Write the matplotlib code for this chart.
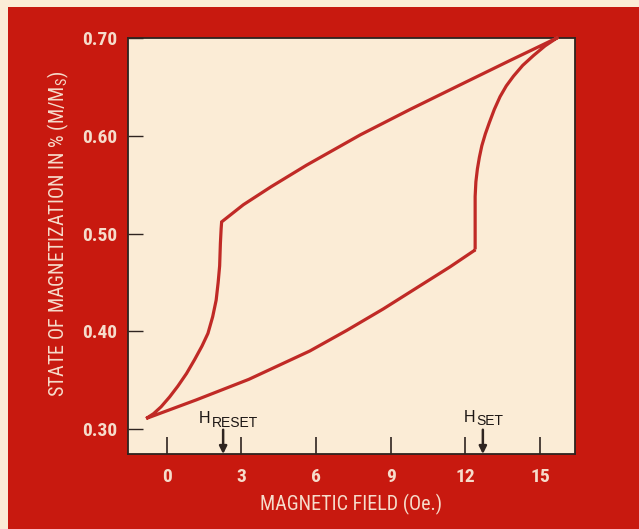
import matplotlib
matplotlib.use("Agg")
import matplotlib.pyplot as plt
import matplotlib.patches as patches
from matplotlib import font_manager

# hysteresis loop (field in Oe, M/Ms)
upper_x = [15.67, 13.79, 11.78, 9.78, 7.78, 5.62, 4.20, 3.08, 2.21]
upper_y = [0.700, 0.677, 0.652, 0.627, 0.601, 0.570, 0.548, 0.5295, 0.512]
reset_x = [2.19, 2.16, 2.13, 2.07, 1.99, 1.85, 1.66, 1.42, 1.12, 0.80, 0.45, 0.12, -0.22, -0.52, -0.82]
reset_y = [0.505, 0.490, 0.467, 0.450, 0.432, 0.415, 0.398, 0.385, 0.371, 0.357, 0.344, 0.333, 0.323, 0.316, 0.311]
lower_x = [-0.82, 1.19, 3.30, 5.75, 7.23, 8.70, 10.04, 11.38, 12.40]
lower_y = [0.311, 0.330, 0.351, 0.380, 0.401, 0.423, 0.4445, 0.466, 0.4835]
set_x = [12.39, 12.39, 12.39, 12.42, 12.48, 12.56, 12.66, 12.80, 12.96, 13.16, 13.39, 13.64, 13.93, 14.30, 14.73, 15.20, 15.67]
set_y = [0.4835, 0.504, 0.538, 0.553, 0.566, 0.578, 0.590, 0.602, 0.6135, 0.627, 0.640, 0.651, 0.661, 0.672, 0.682, 0.692, 0.700]

x_ticks = [0, 3, 6, 9, 12, 15]
y_ticks = [0.30, 0.40, 0.50, 0.60, 0.70]
y_tick_labels = ["0.30", "0.40", "0.50", "0.60", "0.70"]

h_reset = 2.27
h_set = 12.7

RED = "#c8190f"
CREAM = "#fbecd6"
LINE = "#c02a26"
DARK = "#2e2420"
LABEL = "#f6dccb"

# look for a narrow face, the original uses a condensed grotesque
names = {f.name: f for f in font_manager.fontManager.ttflist}
narrow = None
for cand in ['Liberation Sans Narrow', 'Roboto Condensed', 'Open Sans Condensed',
             'Noto Sans Condensed', 'DejaVu Sans Condensed', 'Arial Narrow']:
    if cand in names:
        narrow = cand
        break
stretch = 'normal'
if narrow is None:
    for f in font_manager.fontManager.ttflist:
        if f.name in ('DejaVu Sans', 'Noto Sans', 'Open Sans') and str(f.stretch) in ('condensed', 'semi-condensed', '75', '87.5'):
            narrow = f.name
            stretch = 'condensed'
            break
if narrow is None:
    narrow = 'DejaVu Sans'
    scale = 0.82
else:
    scale = 1.0

plt.rcParams['font.family'] = [narrow, 'DejaVu Sans']
plt.rcParams['font.stretch'] = stretch

fig = plt.figure(figsize=(6.39, 5.29), dpi=100)
fig.patch.set_facecolor(CREAM)
W, H = 639.0, 529.0
fig.patches.append(patches.Rectangle((8 / W, 0), 1, 1 - 7 / H, transform=fig.transFigure,
                                     facecolor=RED, edgecolor='none', zorder=-10))

ax = fig.add_axes([128 / W, 1 - 454 / H, (575 - 128) / W, (454 - 38) / H])
ax.set_zorder(1)
ax.set_facecolor(CREAM)

xs = upper_x + reset_x + lower_x + set_x
ys = upper_y + reset_y + lower_y + set_y
ax.plot(xs, ys, color=LINE, lw=2.3, solid_joinstyle='miter', zorder=3, clip_on=False)

ax.set_xlim(-1.55, 16.4)
ax.set_ylim(0.2747, 0.70)

for s in ax.spines.values():
    s.set_color(DARK)
    s.set_linewidth(1.3)

ax.set_xticks(x_ticks)
ax.set_xticklabels([str(v) for v in x_ticks])
ax.set_yticks(y_ticks)
ax.set_yticklabels(y_tick_labels)
ax.tick_params(axis='x', direction='in', length=12, width=1.2, color=DARK, pad=10,
               labelsize=14 * scale, labelcolor=LABEL)
ax.tick_params(axis='y', direction='in', length=11, width=1.0, color=DARK, pad=8,
               labelsize=14 * scale, labelcolor=LABEL)
for lab in ax.get_xticklabels() + ax.get_yticklabels():
    lab.set_fontweight('bold')

ax.set_xlabel("MAGNETIC FIELD (Oe.)", fontsize=14.5 * scale, color=LABEL, labelpad=6)
ax.set_ylabel(r"STATE OF MAGNETIZATION IN % (M/M$_\mathregular{S}$)", fontsize=14.5 * scale,
              color=LABEL)
ax.yaxis.set_label_coords(-0.127, 0.53)

# field markers
for hx in (h_reset, h_set):
    ax.annotate("", xy=(hx, 0.2747), xytext=(hx, 0.2995),
                arrowprops=dict(arrowstyle='-|>', lw=1.8, color=DARK, mutation_scale=11,
                                shrinkA=0, shrinkB=0), zorder=4)

txt = dict(color="#1c1614", family=['Liberation Sans', 'DejaVu Sans'], stretch='normal')
ax.text(1.76, 0.3069, "H", ha='right', va='baseline', fontsize=11.5, **txt)
ax.text(1.80, 0.3024, "RESET", ha='left', va='baseline', fontsize=10, **txt)
ax.text(12.39, 0.3078, "H", ha='right', va='baseline', fontsize=11.5, **txt)
ax.text(12.42, 0.3044, "SET", ha='left', va='baseline', fontsize=10, **txt)

fig.savefig("out.png", dpi=100, facecolor=fig.get_facecolor())
